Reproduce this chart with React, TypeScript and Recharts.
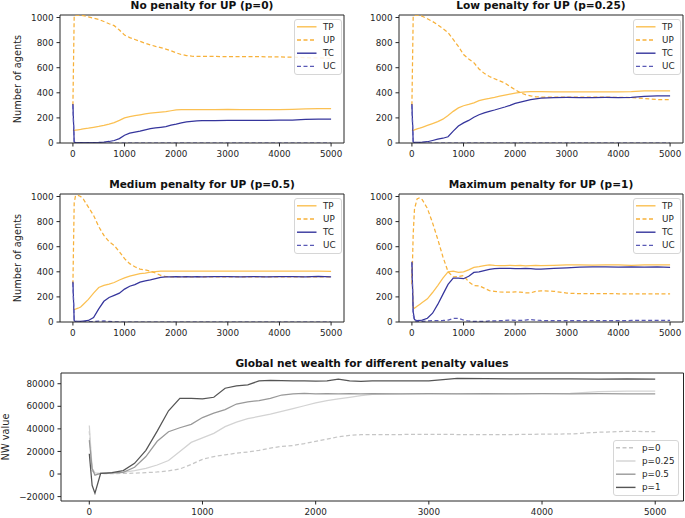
import { LineChart, Line, XAxis, YAxis, ReferenceLine } from "recharts";

const STEPS = [0, 25, 50, 100, 150, 200, 300, 400, 500, 600, 700, 800, 900, 1000, 1100, 1200, 1300, 1400, 1500, 1600,
  1700, 1800, 1900, 2000, 2100, 2200, 2300, 2400, 2500, 2750, 3000, 3250, 3500, 3750, 4000, 4250, 4500, 4750, 5000];

const X_TICKS = [0, 1000, 2000, 3000, 4000, 5000];
const AGENT_TICKS = [0, 200, 400, 600, 800, 1000];
const NW_TICKS = [-20000, 0, 20000, 40000, 60000, 80000];

// p = 0
const TP_P0 = [100, 100, 102, 105, 108, 112, 118, 125, 132, 140, 150, 162, 180, 200, 210, 218, 225, 232, 238, 242,
  246, 250, 257, 263, 265, 265, 265, 266, 266, 265, 267, 266, 265, 266, 265, 268, 272, 274, 273];
const UP_P0 = [300, 1015, 1019, 1019, 1018, 1015, 1005, 995, 985, 968, 950, 935, 900, 860, 840, 825, 810, 795, 782, 770,
  760, 748, 735, 718, 705, 697, 692, 690, 690, 690, 688, 688, 688, 687, 686, 684, 680, 678, 675];
const TC_P0 = [310, 8, 3, 2, 2, 2, 2, 3, 4, 7, 12, 20, 35, 62, 78, 86, 94, 105, 115, 120,
  125, 130, 142, 150, 160, 168, 172, 176, 178, 178, 180, 180, 180, 181, 182, 182, 188, 190, 190];
const UC_P0 = [300, 5, 1, 0, 0, 0, 0, 0, 0, 0, 0, 0, 0, 0, 0, 0, 0, 0, 0, 0,
  0, 0, 0, 0, 0, 0, 0, 0, 0, 0, 0, 0, 0, 0, 0, 0, 0, 0, 0];

// p = 0.25
const TP_P025 = [100, 100, 105, 112, 118, 125, 140, 155, 170, 190, 220, 252, 280, 297, 308, 320, 338, 348, 355, 363,
  373, 382, 390, 398, 403, 408, 410, 410, 410, 408, 408, 407, 408, 408, 408, 410, 416, 416, 415];
const UP_P025 = [300, 1010, 1018, 1019, 1018, 1010, 990, 968, 942, 912, 880, 825, 770, 705, 670, 640, 590, 555, 530, 512,
  495, 478, 450, 425, 400, 385, 375, 368, 366, 365, 365, 365, 365, 365, 364, 362, 355, 346, 345];
const TC_P025 = [310, 8, 4, 4, 5, 6, 10, 20, 30, 38, 50, 95, 135, 160, 180, 205, 225, 240, 252, 263,
  275, 287, 300, 315, 325, 335, 345, 352, 358, 362, 363, 362, 362, 363, 362, 363, 372, 375, 375];
const UC_P025 = [300, 5, 1, 0, 0, 0, 0, 0, 0, 0, 0, 0, 0, 0, 0, 0, 0, 0, 0, 0,
  0, 0, 0, 0, 0, 0, 0, 0, 0, 0, 0, 0, 0, 0, 0, 0, 0, 0, 0];

// p = 0.5
const TP_P05 = [100, 100, 102, 110, 120, 140, 180, 230, 275, 292, 302, 315, 335, 352, 365, 375, 385, 390, 397, 402,
  405, 405, 406, 405, 406, 405, 406, 405, 406, 405, 406, 406, 405, 406, 405, 406, 405, 406, 404];
const UP_P05 = [300, 950, 1005, 1008, 1000, 980, 915, 850, 760, 690, 640, 610, 560, 505, 465, 440, 422, 415, 405, 390,
  372, 362, 360, 360, 360, 360, 360, 360, 360, 360, 360, 360, 360, 360, 360, 360, 360, 360, 360];
const TC_P05 = [320, 10, 4, 4, 5, 8, 12, 35, 105, 165, 195, 212, 230, 262, 285, 298, 318, 328, 335, 345,
  355, 360, 360, 362, 360, 361, 360, 362, 360, 361, 362, 360, 361, 360, 362, 361, 360, 363, 360];
const UC_P05 = [310, 20, 5, 2, 2, 2, 3, 4, 6, 8, 4, 1, 0, 0, 0, 0, 0, 0, 0, 0,
  0, 0, 0, 0, 0, 0, 0, 0, 0, 0, 0, 0, 0, 0, 0, 0, 0, 0, 0];

// p = 1
const TP_P1 = [420, 115, 110, 125, 140, 155, 185, 235, 290, 350, 400, 405, 395, 400, 415, 435, 442, 450, 455, 452,
  450, 450, 452, 450, 452, 448, 450, 452, 450, 452, 455, 455, 453, 455, 455, 452, 455, 455, 455];
const UP_P1 = [300, 700, 900, 980, 990, 975, 905, 790, 660, 520, 400, 360, 362, 370, 320, 290, 288, 270, 250, 245,
  240, 238, 238, 240, 238, 233, 232, 245, 248, 245, 230, 226, 226, 226, 225, 225, 225, 225, 225];
const TC_P1 = [480, 80, 20, 10, 12, 15, 30, 70, 140, 220, 300, 350, 350, 345, 365, 395, 400, 410, 420, 425,
  428, 428, 428, 425, 426, 428, 425, 422, 422, 428, 432, 438, 440, 440, 438, 440, 438, 440, 435];
const UC_P1 = [470, 60, 10, 5, 4, 5, 8, 12, 10, 12, 15, 28, 30, 15, 8, 5, 4, 5, 8, 8,
  10, 12, 15, 12, 12, 15, 20, 15, 12, 10, 10, 10, 10, 10, 10, 12, 12, 12, 12];

// global net wealth
const NW_P0 = [38000, 3000, 500, 300, 300, 400, 500, 800, 1200, 1800, 2800, 4500, 8500, 13000, 15500, 17000, 18500, 19500, 21000, 23000,
  24500, 25300, 27000, 29000, 31000, 33000, 34300, 34800, 35000, 35000, 35200, 35000, 35000, 35000, 35300, 35500, 37000, 37800, 37500];
const NW_P025 = [43000, 5000, 1000, 500, 600, 800, 1500, 3000, 5000, 8000, 12000, 20000, 28000, 32000, 36000, 42000, 46000, 49000, 51000, 53000,
  55500, 58000, 60500, 63000, 65000, 66500, 68000, 69500, 70500, 71000, 71000, 71200, 71200, 71200, 71300, 71500, 73000, 73500, 73500];
const NW_P05 = [30000, 5000, -1000, 500, 700, 1000, 1500, 6000, 15500, 29000, 37500, 41000, 44000, 50000, 54000, 57000, 62000, 64000, 65000, 67000,
  70000, 71000, 71500, 71000, 71200, 71000, 71300, 71000, 71200, 71000, 71200, 71000, 71300, 71000, 71200, 71000, 71200, 71000, 71000];
const NW_P1 = [18000, -10000, -17000, 500, 800, 1200, 3000, 9500, 21000, 38000, 56000, 67000, 67000, 66500, 68000, 76000, 78000, 79000, 82500, 83000,
  82800, 82500, 82500, 82300, 82500, 84000, 82500, 82000, 82500, 82500, 82500, 84800, 84500, 84300, 84300, 84300, 84000, 84300, 84000];

const FONT = "'DejaVu Sans', sans-serif";
const INK = "#262626";
const TICK = { fontSize: 8.8, fill: INK, fontFamily: FONT };

const AGENT_SERIES = [
  { key: "tp", name: "TP", color: "#fbc052", dash: undefined },
  { key: "up", name: "UP", color: "#f7b13a", dash: "4 2.5" },
  { key: "tc", name: "TC", color: "#35359c", dash: undefined },
  { key: "uc", name: "UC", color: "#5a5ab6", dash: "4 2.5" },
];

const NW_SERIES = [
  { key: "p0", name: "p=0", color: "#c6c6c6", dash: "4 2.5" },
  { key: "p025", name: "p=0.25", color: "#d3d3d3", dash: undefined },
  { key: "p05", name: "p=0.5", color: "#999999", dash: undefined },
  { key: "p1", name: "p=1", color: "#555555", dash: undefined },
];

const agentRows = (tp: number[], up: number[], tc: number[], uc: number[]) =>
  STEPS.map((step, i) => ({ step, tp: tp[i], up: up[i], tc: tc[i], uc: uc[i] }));

const nwRows = STEPS.map((step, i) => ({ step, p0: NW_P0[i], p025: NW_P025[i], p05: NW_P05[i], p1: NW_P1[i] }));

const PANELS = [
  { title: "No penalty for UP (p=0)", left: 0, top: 0, yLabel: true, data: agentRows(TP_P0, UP_P0, TC_P0, UC_P0) },
  { title: "Low penalty for UP (p=0.25)", left: 339, top: 0, yLabel: false, data: agentRows(TP_P025, UP_P025, TC_P025, UC_P025) },
  { title: "Medium penalty for UP (p=0.5)", left: 0, top: 179, yLabel: true, data: agentRows(TP_P05, UP_P05, TC_P05, UC_P05) },
  { title: "Maximum penalty for UP (p=1)", left: 339, top: 179, yLabel: false, data: agentRows(TP_P1, UP_P1, TC_P1, UC_P1) },
];

type Item = { name: string; color: string; dash?: string };

function LegendBox({ left, top, width, items }: { left: number; top: number; width: number; items: Item[] }) {
  return (
    <div style={{ position: "absolute", left, top, width, height: 56, border: "1px solid #d6d6d6", borderRadius: 3,
      background: "rgba(255,255,255,0.85)", boxSizing: "border-box" }}>
      <svg width={width} height={56} style={{ position: "absolute", left: -1, top: -1 }}>
        {items.map((it, i) => {
          const y = 7.8 + i * 13.2;
          return (
            <g key={it.name}>
              <line x1={3} x2={22.5} y1={y} y2={y} stroke={it.color} strokeWidth={1.4} strokeDasharray={it.dash} />
              <text x={29} y={y} dy="0.35em" fontSize={8.8} fill={INK} fontFamily={FONT}>{it.name}</text>
            </g>
          );
        })}
      </svg>
    </div>
  );
}

function Title({ cx, cy, text }: { cx: number; cy: number; text: string }) {
  return (
    <div style={{ position: "absolute", left: cx - 200, top: cy - 6, width: 400, lineHeight: "12px", textAlign: "center",
      fontSize: 10.6, fontWeight: "bold", color: "#111", whiteSpace: "nowrap" }}>{text}</div>
  );
}

function YTitle({ cx, cy, text }: { cx: number; cy: number; text: string }) {
  return (
    <div style={{ position: "absolute", left: cx - 100, top: cy - 6, width: 200, height: 12, lineHeight: "12px",
      textAlign: "center", fontSize: 9.8, color: INK, transform: "rotate(-90deg)", whiteSpace: "nowrap" }}>{text}</div>
  );
}

function AgentPanel({ left, top, data }: { left: number; top: number; data: any[] }) {
  return (
    <div style={{ position: "absolute", left, top }}>
      <LineChart width={345} height={170} data={data} margin={{ top: 15, right: 1, left: 0, bottom: 2 }}>
        <XAxis dataKey="step" type="number" domain={[-250, 5250]} ticks={X_TICKS} allowDataOverflow height={25}
          tick={TICK} tickSize={3.5} tickMargin={4} axisLine={{ stroke: INK }} tickLine={{ stroke: INK }} />
        <YAxis type="number" domain={[0, 1020]} ticks={AGENT_TICKS} allowDataOverflow width={60}
          tick={TICK} tickSize={3.5} tickMargin={3} axisLine={{ stroke: INK }} tickLine={{ stroke: INK }} />
        <ReferenceLine y={1020} stroke={INK} />
        <ReferenceLine x={5250} stroke={INK} />
        {AGENT_SERIES.map((s) => (
          <Line key={s.key} dataKey={s.key} type="linear" stroke={s.color} strokeWidth={1.25} strokeDasharray={s.dash}
            dot={false} isAnimationActive={false} />
        ))}
      </LineChart>
    </div>
  );
}

const nwTick = (v: number) => (v < 0 ? "\u2212" + Math.abs(v) : String(v));

export default function App() {
  return (
    <div style={{ position: "absolute", left: 0, top: 0, width: 685, height: 518, background: "#fff", fontFamily: FONT }}>
      {PANELS.map((p) => (
        <div key={p.title}>
          <AgentPanel left={p.left} top={p.top} data={p.data} />
          <Title cx={p.left + 202} cy={p.top + 5} text={p.title} />
          {p.yLabel && <YTitle cx={18} cy={p.top + 79} text="Number of agents" />}
          <LegendBox left={p.left + 294} top={p.top + 19} width={48} items={AGENT_SERIES} />
        </div>
      ))}

      <div style={{ position: "absolute", left: 0, top: 358 }}>
        <LineChart width={685} height={160} data={nwRows} margin={{ top: 15, right: 1.5, left: 0, bottom: 2 }}>
          <XAxis dataKey="step" type="number" domain={[-250, 5250]} ticks={X_TICKS} allowDataOverflow height={15}
            tick={TICK} tickSize={3.5} tickMargin={4} axisLine={{ stroke: INK }} tickLine={{ stroke: INK }} />
          <YAxis type="number" domain={[-23900, 89500]} ticks={NW_TICKS} allowDataOverflow width={61}
            tick={TICK} tickSize={3.5} tickMargin={3} tickFormatter={nwTick} axisLine={{ stroke: INK }} tickLine={{ stroke: INK }} />
          <ReferenceLine y={89500} stroke={INK} />
          <ReferenceLine x={5250} stroke={INK} />
          {NW_SERIES.map((s) => (
            <Line key={s.key} dataKey={s.key} type="linear" stroke={s.color} strokeWidth={1.25} strokeDasharray={s.dash}
              dot={false} isAnimationActive={false} />
          ))}
        </LineChart>
      </div>
      <Title cx={372} cy={362.6} text="Global net wealth for different penalty values" />
      <YTitle cx={6} cy={437} text="NW value" />
      <LegendBox left={612.7} top={440} width={66.6} items={NW_SERIES} />
    </div>
  );
}
